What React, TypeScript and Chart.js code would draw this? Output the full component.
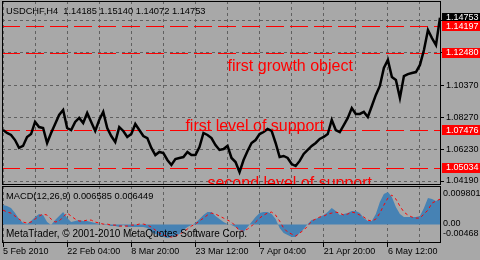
import React, { useEffect, useRef } from 'react';
import { Chart, registerables } from 'chart.js';

Chart.register(...registerables);

const FONT = '"Liberation Sans", Arial, sans-serif';

// ---- data (sampled every BAR_STEP H4 bars) ----
const BAR_STEP = 4;
const closes = [
  1.0749, 1.0730, 1.0717, 1.0684, 1.0633, 1.0646, 1.0704, 1.0723, 1.0801, 1.0768,
  1.0762, 1.0665, 1.0730, 1.0788, 1.0846, 1.0878, 1.0762, 1.0749, 1.0801, 1.0827,
  1.0794, 1.0859, 1.0801, 1.0743, 1.0814, 1.0866, 1.0762, 1.0710, 1.0671, 1.0768,
  1.0743, 1.0704, 1.0723, 1.0788, 1.0749, 1.0710, 1.0697, 1.0633, 1.0587, 1.0607,
  1.0600, 1.0555, 1.0523, 1.0561, 1.0568, 1.0574, 1.0607, 1.0587, 1.0587, 1.0639,
  1.0730, 1.0717, 1.0697, 1.0652, 1.0620, 1.0626, 1.0646, 1.0568, 1.0542, 1.0477,
  1.0555, 1.0613, 1.0665, 1.0684, 1.0723, 1.0736, 1.0756, 1.0743, 1.0665, 1.0574,
  1.0581, 1.0568, 1.0529, 1.0516, 1.0549, 1.0594, 1.0620, 1.0646, 1.0665, 1.0691,
  1.0704, 1.0723, 1.0814, 1.0749, 1.0736, 1.0781, 1.0827, 1.0891, 1.0853, 1.0853,
  1.0866, 1.0833, 1.0904, 1.0976, 1.1034, 1.1150, 1.1202, 1.1092, 1.1073, 1.0956,
  1.1098, 1.1111, 1.1118, 1.1124, 1.1170, 1.1267, 1.1396, 1.1344, 1.1299, 1.1475,
];

const macdHist = [
  0.00495, 0.00470, 0.00419, 0.00292, 0.00140, 0.00038, 0.00013, 0.00089, 0.00191, 0.00267,
  0.00241, 0.00064, -0.00013, 0.00114, 0.00216, 0.00318, 0.00165, 0.00064, 0.00089, 0.00114,
  0.00089, 0.00089, 0.00064, 0.00038, 0.00013, -0.00013, -0.00013, -0.00038, -0.00038, -0.00064,
  -0.00013, -0.00064, -0.00064, -0.00064, -0.00064, -0.00064, -0.00089, -0.00191, -0.00241, -0.00292,
  -0.00318, -0.00343, -0.00318, -0.00292, -0.00241, -0.00140, -0.00064, -0.00013, 0.00038, 0.00140,
  0.00241, 0.00318, 0.00318, 0.00216, 0.00140, 0.00064, 0.00013, -0.00013, -0.00064, -0.00140,
  -0.00191, -0.00064, 0.00064, 0.00191, 0.00292, 0.00318, 0.00318, 0.00267, 0.00140, -0.00089,
  -0.00216, -0.00267, -0.00318, -0.00318, -0.00216, -0.00114, 0.00013, 0.00114, 0.00140, 0.00191,
  0.00241, 0.00318, 0.00419, 0.00343, 0.00241, 0.00267, 0.00292, 0.00343, 0.00343, 0.00292,
  0.00165, 0.00089, 0.00089, 0.00267, 0.00572, 0.00775, 0.00826, 0.00699, 0.00445, 0.00267,
  0.00191, 0.00191, 0.00191, 0.00191, 0.00216, 0.00419, 0.00673, 0.00648, 0.00597, 0.00659,
];

const macdSignal = [
  0.00368, 0.00318, 0.00292, 0.00216, 0.00140, 0.00064, 0.00038, 0.00064, 0.00140, 0.00216,
  0.00267, 0.00241, 0.00140, 0.00064, 0.00089, 0.00191, 0.00292, 0.00216, 0.00140, 0.00089,
  0.00089, 0.00114, 0.00114, 0.00064, 0.00038, 0.00013, 0.00013, -0.00013, -0.00013, -0.00038,
  -0.00038, -0.00038, -0.00013, -0.00013, 0.00013, 0.00013, -0.00013, -0.00064, -0.00140, -0.00216,
  -0.00267, -0.00292, -0.00318, -0.00292, -0.00241, -0.00191, -0.00114, -0.00038, 0.00013, 0.00089,
  0.00165, 0.00241, 0.00292, 0.00267, 0.00216, 0.00165, 0.00114, 0.00064, -0.00038, -0.00165,
  -0.00165, -0.00114, -0.00038, 0.00064, 0.00165, 0.00241, 0.00292, 0.00318, 0.00241, 0.00089,
  -0.00089, -0.00191, -0.00241, -0.00292, -0.00216, -0.00140, -0.00038, 0.00089, 0.00140, 0.00191,
  0.00216, 0.00267, 0.00292, 0.00318, 0.00292, 0.00241, 0.00267, 0.00318, 0.00292, 0.00241,
  0.00191, 0.00114, 0.00089, 0.00140, 0.00292, 0.00495, 0.00673, 0.00749, 0.00648, 0.00470,
  0.00318, 0.00241, 0.00191, 0.00165, 0.00165, 0.00267, 0.00368, 0.00546, 0.00597, 0.00645,
];

const symbolTitle = 'USDCHF,H4';
const ohlcValues = ['1.14185', '1.15140', '1.14072', '1.14753'];
const lastPrice = 1.14753;
const levelValues = [1.14197, 1.1248, 1.07476, 1.05034];

const priceMin = 1.03932;
const priceMax = 1.15837;
const priceTicks = [1.0419, 1.0623, 1.0827, 1.1037, 1.12473, 1.14543];
const priceTickLabels = ['1.04190', '1.06230', '1.08270', '1.10370', '', ''];

const barMin = -1;
const barMax = 437;
const timeTicks = [0, 32, 64, 96, 128, 160, 192, 224, 256, 288, 320, 352, 384, 416];
const timeLabels = [
  '5 Feb 2010', '', '22 Feb 04:00', '', '8 Mar 20:00', '', '23 Mar 12:00', '',
  '7 Apr 04:00', '', '21 Apr 20:00', '', '6 May 12:00', '',
];

const macdMin = -0.00468;
const macdMax = 0.009801;
const macdAxisValues = [0.009801, 0, -0.00468];
const macdAxisLabels = ['0.009801', '0.00', '-0.00468'];
const macdName = 'MACD(12,26,9)';
const macdLastValues = ['0.006585', '0.006449'];
const copyright = 'MetaTrader, \u00A9 2001-2010 MetaQuotes Software Corp.';

const annotationTexts = ['first growth object', 'first level of support', 'second level of support'];
const annotationBars = [224, 182, 204];
const annotationPrices = [1.1131, 1.0743, 1.0371];

const BG = '#A8A8A8';
const GRID = '#606060';

const mainOverlay = {
  id: 'mainOverlay',
  beforeDatasetsDraw(chart: any) {
    const { ctx, chartArea: a, scales } = chart;
    const y = scales.y;
    ctx.save();
    ctx.strokeStyle = '#FF0000';
    ctx.lineWidth = 1;
    ctx.setLineDash([18, 6]);
    levelValues.forEach((v) => {
      const py = Math.round(y.getPixelForValue(v)) + 0.5;
      ctx.beginPath();
      ctx.moveTo(a.left, py);
      ctx.lineTo(a.right, py);
      ctx.stroke();
    });
    ctx.restore();
  },
  afterDatasetsDraw(chart: any) {
    const { ctx, chartArea: a, scales } = chart;
    ctx.save();
    ctx.beginPath();
    ctx.rect(a.left, a.top, a.right - a.left, a.bottom - a.top);
    ctx.clip();
    ctx.fillStyle = '#FF0000';
    ctx.font = `16px ${FONT}`;
    ctx.textBaseline = 'alphabetic';
    ctx.textAlign = 'left';
    annotationTexts.forEach((t, i) => {
      ctx.fillText(t, scales.x.getPixelForValue(annotationBars[i]), scales.y.getPixelForValue(annotationPrices[i]));
    });
    ctx.restore();
  },
  afterDraw(chart: any) {
    const { ctx, chartArea: a, scales, width } = chart;
    const y = scales.y;
    ctx.save();
    ctx.strokeStyle = '#000';
    ctx.lineWidth = 1;
    ctx.setLineDash([]);
    ctx.strokeRect(a.left + 0.5, a.top + 0.5, a.right - a.left - 1, a.bottom - a.top - 1);
    ctx.fillStyle = '#000';
    ctx.font = `9.3px ${FONT}`;
    ctx.textBaseline = 'alphabetic';
    ctx.textAlign = 'left';
    ctx.fillText(`${symbolTitle}  ${ohlcValues.join(' ')}`, a.left + 4, a.top + 13);
    ctx.font = `9px ${FONT}`;
    const drawBox = (v: number, bg: string) => {
      const py = y.getPixelForValue(v);
      ctx.fillStyle = bg;
      ctx.fillRect(a.right + 1, Math.round(py) - 5, width - a.right - 1, 10);
      ctx.fillStyle = '#FFFFFF';
      ctx.textBaseline = 'middle';
      ctx.fillText(v.toFixed(5), a.right + 5, py);
    };
    drawBox(lastPrice, '#000000');
    levelValues.forEach((v) => drawBox(v, '#FF0000'));
    ctx.restore();
  },
};

const macdOverlay = {
  id: 'macdOverlay',
  afterDraw(chart: any) {
    const { ctx, chartArea: a, scales } = chart;
    const y = scales.y;
    ctx.save();
    ctx.strokeStyle = '#000';
    ctx.lineWidth = 1;
    ctx.strokeRect(a.left + 0.5, a.top + 0.5, a.right - a.left - 1, a.bottom - a.top - 1);
    ctx.fillStyle = '#000';
    ctx.textAlign = 'left';
    ctx.textBaseline = 'alphabetic';
    ctx.font = `9.3px ${FONT}`;
    ctx.fillText(`${macdName} ${macdLastValues.join(' ')}`, a.left + 4, a.top + 13);
    ctx.font = `10px ${FONT}`;
    ctx.fillText(copyright, a.left + 4, a.top + 51);
    ctx.font = `9px ${FONT}`;
    const offsets = [8, -1, -9];
    ctx.textBaseline = 'middle';
    macdAxisValues.forEach((v, i) => {
      ctx.fillText(macdAxisLabels[i], a.right + 2, y.getPixelForValue(v) + offsets[i]);
    });
    ctx.restore();
  },
};

export default function App() {
  const mainRef = useRef<HTMLCanvasElement>(null);
  const macdRef = useRef<HTMLCanvasElement>(null);

  useEffect(() => {
    Chart.defaults.font.family = FONT;
    const xTicks = (s: any) => {
      s.ticks = timeTicks.map((v) => ({ value: v }));
    };
    const main = new Chart(mainRef.current as HTMLCanvasElement, {
      type: 'line',
      data: {
        datasets: [
          {
            data: closes.map((c, i) => ({ x: i * BAR_STEP, y: c })),
            borderColor: '#000000',
            borderWidth: 2.5,
            pointRadius: 0,
            tension: 0,
            fill: false,
          },
        ],
      },
      options: {
        animation: false,
        responsive: false,
        devicePixelRatio: 1,
        events: [],
        layout: { padding: { left: 2, top: 1, right: 0, bottom: 0 } },
        plugins: { legend: { display: false }, tooltip: { enabled: false } },
        scales: {
          x: {
            type: 'linear',
            position: 'bottom',
            min: barMin,
            max: barMax,
            afterBuildTicks: xTicks,
            afterFit: (s: any) => {
              s.height = 1;
              s.paddingLeft = 0;
              s.paddingRight = 0;
            },
            ticks: { display: false },
            grid: { color: GRID, lineWidth: 1, drawTicks: false },
            border: { display: false, dash: [3, 3] },
          },
          y: {
            type: 'linear',
            position: 'right',
            min: priceMin,
            max: priceMax,
            afterBuildTicks: (s: any) => {
              s.ticks = priceTicks.map((v) => ({ value: v }));
            },
            afterFit: (s: any) => {
              s.width = 39;
              s.paddingTop = 0;
              s.paddingBottom = 0;
            },
            ticks: {
              callback: (_v: any, i: number) => priceTickLabels[i],
              color: '#000',
              font: { family: FONT, size: 9 },
              padding: 2,
              autoSkip: false,
            },
            grid: { color: GRID, tickColor: '#000', tickLength: 3, drawTicks: true },
            border: { display: false, dash: [3, 3] },
          },
        },
      } as any,
      plugins: [mainOverlay],
    });

    const macd = new Chart(macdRef.current as HTMLCanvasElement, {
      type: 'line',
      data: {
        datasets: [
          {
            data: macdSignal.map((v, i) => ({ x: i * BAR_STEP, y: v })),
            borderColor: '#FF0000',
            borderWidth: 1,
            borderDash: [3, 3],
            pointRadius: 0,
            fill: false,
            order: 1,
          },
          {
            data: macdHist.map((v, i) => ({ x: i * BAR_STEP, y: v })),
            borderWidth: 0,
            borderColor: 'rgba(0,0,0,0)',
            backgroundColor: '#4682B4',
            pointRadius: 0,
            fill: 'origin',
            order: 2,
          },
        ],
      },
      options: {
        animation: false,
        responsive: false,
        devicePixelRatio: 1,
        events: [],
        layout: { padding: { left: 2, top: 0, right: 0, bottom: 0 } },
        plugins: { legend: { display: false }, tooltip: { enabled: false } },
        scales: {
          x: {
            type: 'linear',
            position: 'bottom',
            min: barMin,
            max: barMax,
            afterBuildTicks: xTicks,
            afterFit: (s: any) => {
              s.height = 17;
              s.paddingLeft = 0;
              s.paddingRight = 0;
            },
            ticks: {
              callback: (_v: any, i: number) => timeLabels[i],
              align: 'start',
              maxRotation: 0,
              minRotation: 0,
              autoSkip: false,
              padding: -1,
              color: '#000',
              font: { family: FONT, size: 9 },
            },
            grid: {
              color: GRID,
              lineWidth: 1,
              tickLength: 4,
              tickColor: (c: any) => (c.index % 2 === 0 ? '#000000' : 'rgba(0,0,0,0)'),
            },
            border: { display: false, dash: [3, 3] },
          },
          y: {
            type: 'linear',
            position: 'right',
            min: macdMin,
            max: macdMax,
            afterFit: (s: any) => {
              s.width = 39;
              s.paddingTop = 0;
              s.paddingBottom = 0;
            },
            ticks: { display: false },
            grid: { display: false },
            border: { display: false },
          },
        },
      } as any,
      plugins: [macdOverlay],
    });

    return () => {
      main.destroy();
      macd.destroy();
    };
  }, []);

  return (
    <div style={{ position: 'fixed', left: 0, top: 0, width: 480, height: 260, background: BG, overflow: 'hidden' }}>
      <canvas
        ref={mainRef}
        width={480}
        height={186}
        style={{ position: 'absolute', left: 0, top: 0, width: 480, height: 186, display: 'block' }}
      />
      <canvas
        ref={macdRef}
        width={480}
        height={74}
        style={{ position: 'absolute', left: 0, top: 186, width: 480, height: 74, display: 'block' }}
      />
    </div>
  );
}
